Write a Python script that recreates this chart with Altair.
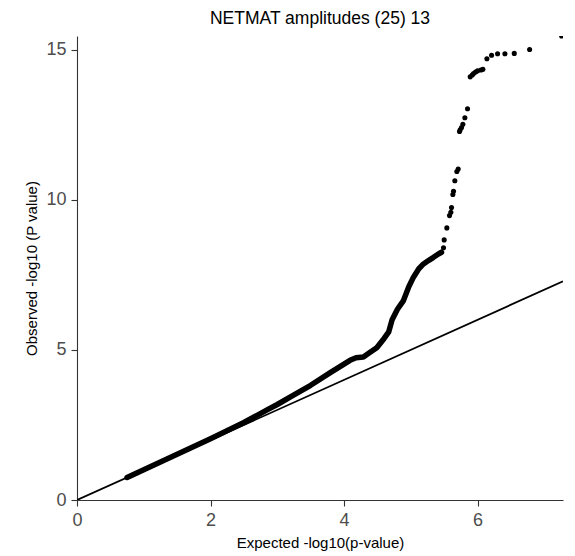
import altair as alt
import pandas as pd

# Dense part of the QQ curve (expected, observed)
dense_x = [0.75, 1.0, 1.5, 2.0, 2.5, 2.84, 3.0, 3.25, 3.5, 3.8, 4.09, 4.18, 4.29,
           4.38, 4.49, 4.6, 4.67, 4.72, 4.8, 4.89, 4.97, 5.04, 5.12, 5.19, 5.27,
           5.34, 5.42, 5.46]
dense_y = [0.75, 1.01, 1.52, 2.04, 2.58, 2.99, 3.18, 3.5, 3.82, 4.25, 4.65, 4.74,
           4.76, 4.9, 5.07, 5.38, 5.6, 6.0, 6.35, 6.64, 7.1, 7.42, 7.7, 7.86, 7.98,
           8.08, 8.2, 8.25]

# Sparse top points
pt_x = [5.49, 5.50, 5.54, 5.58, 5.60, 5.61, 5.63, 5.64, 5.66, 5.69, 5.71,
        5.73, 5.74, 5.76, 5.78, 5.81, 5.85, 5.89, 5.92, 5.94, 5.97, 6.00, 6.05,
        6.08, 6.14, 6.21, 6.30, 6.41, 6.55, 6.78, 7.26]
pt_y = [8.40, 8.66, 9.06, 9.47, 9.58, 9.74, 10.17, 10.28, 10.63, 10.94, 11.02,
        12.27, 12.33, 12.40, 12.51, 12.73, 13.03, 14.09, 14.15, 14.20, 14.25, 14.29, 14.32,
        14.34, 14.69, 14.81, 14.86, 14.86, 14.87, 15.00, 15.45]

diag_x = [0, 7.28]
diag_y = [0, 7.28]

X_MAX = 7.28
Y_MAX = 15.45

dense = pd.DataFrame({"x": dense_x, "y": dense_y})
pts = pd.DataFrame({"x": pt_x, "y": pt_y})
diag = pd.DataFrame({"x": diag_x, "y": diag_y})

xs = alt.Scale(domain=[0, X_MAX], nice=False, zero=True)
ys = alt.Scale(domain=[0, Y_MAX], nice=False, zero=True)

xax = alt.Axis(values=[0, 2, 4, 6], title="Expected -log10(p-value)", format="d",
               labelFlush=False)
yax = alt.Axis(values=[0, 5, 10, 15], title="Observed -log10 (P value)", format="d",
               labelFlush=False)

line_diag = alt.Chart(diag).mark_line(color="black", strokeWidth=1.8, clip=True).encode(
    x=alt.X("x:Q", scale=xs, axis=xax),
    y=alt.Y("y:Q", scale=ys, axis=yax),
)

line_dense = alt.Chart(dense).mark_line(
    color="black", strokeWidth=5.5, strokeCap="round", strokeJoin="round", clip=True
).encode(x=alt.X("x:Q", scale=xs), y=alt.Y("y:Q", scale=ys))

points = alt.Chart(pts).mark_circle(color="black", opacity=1, size=26, clip=True).encode(
    x=alt.X("x:Q", scale=xs), y=alt.Y("y:Q", scale=ys)
)

chart = alt.layer(line_diag, line_dense, points).properties(
    width=486,
    height=464,
    title=alt.TitleParams("NETMAT amplitudes (25) 13", fontSize=17.5, font="Liberation Sans",
                          fontWeight="normal", color="black", offset=9, anchor="middle"),
    autosize=alt.AutoSizeParams(type="none"),
    padding={"left": 69, "top": 28, "right": 4, "bottom": 52},
).configure_view(stroke=None).configure_axis(
    grid=False,
    domainColor="#333333",
    domainWidth=1.1,
    tickColor="#333333",
    tickWidth=1.1,
    tickSize=6,
    labelFont="Liberation Sans",
    labelFontSize=18,
    labelColor="#4d4d4d",
    labelPadding=5,
    titleFont="Liberation Sans",
    titleFontSize=15,
    titleFontWeight="normal",
    titleColor="black",
).configure_axisX(titlePadding=6).configure_axisY(titlePadding=6)

chart.save("out.html", embed_options={"renderer": "svg", "actions": False})
